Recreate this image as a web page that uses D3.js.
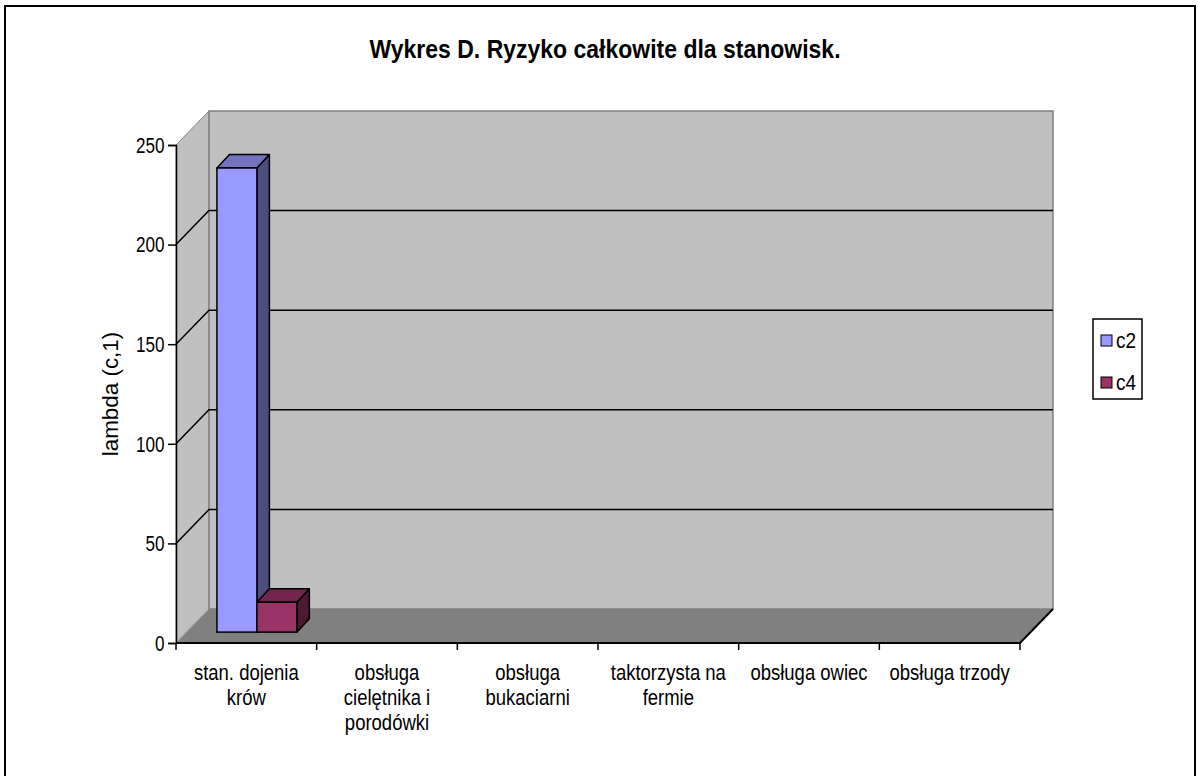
<!DOCTYPE html>
<html>
<head>
<meta charset="utf-8">
<script src="https://cdn.jsdelivr.net/npm/d3@7"></script>
<style>
  body { margin: 0; background: #fff; }
  text { font-family: Arial, "Liberation Sans", sans-serif; }
</style>
</head>
<body>
<svg id="chart" width="1198" height="776"></svg>
<script>
// data
var categories = [["stan. dojenia", "krów"], ["obsługa", "cielętnika i", "porodówki"], ["obsługa", "bukaciarni"],
                  ["taktorzysta na", "fermie"], ["obsługa owiec"], ["obsługa trzody"]];
var seriesNames = ["c2", "c4"];
var c2 = [233, 0, 0, 0, 0, 0];
var c4 = [15, 0, 0, 0, 0, 0];
var yTicks = [0, 50, 100, 150, 200, 250];

var colors = {
    c2: {front: "#9999ff", top: "#7373bf", side: "#4d4d80"},
    c4: {front: "#993366", top: "#73264d", side: "#4d1a33"}
};

var svg = d3.select("#chart");

// outer frame
svg.append("rect").attr("x", 5).attr("y", 6).attr("width", 1190).attr("height", 790)
    .attr("fill", "#fff").attr("stroke", "#000").attr("stroke-width", 2);

// plot geometry (front plane), depth offset to the back wall
var x0 = 176, x1 = 1020, depthX = 33, depthY = 34;
var y = d3.scaleLinear().domain([0, 250]).range([643, 145]);
var x = d3.scaleBand().domain(d3.range(categories.length)).range([x0, x1]);

// walls
svg.append("polygon")   // side wall
    .attr("points", [[x0, y(250)], [x0 + depthX, y(250) - depthY], [x0 + depthX, y(0) - depthY], [x0, y(0)]].join(" "))
    .attr("fill", "#c0c0c0").attr("stroke", "#808080").attr("stroke-width", 1);
svg.append("rect")      // back wall
    .attr("x", x0 + depthX).attr("y", y(250) - depthY)
    .attr("width", x1 - x0).attr("height", y(0) - y(250))
    .attr("fill", "#c0c0c0").attr("stroke", "#808080").attr("stroke-width", 1.5);
svg.append("polygon")   // floor
    .attr("points", [[x0, y(0)], [x0 + depthX, y(0) - depthY], [x1 + depthX, y(0) - depthY], [x1, y(0)]].join(" "))
    .attr("fill", "#808080").attr("stroke", "none");

// gridlines on side + back wall
yTicks.filter(function(t){ return t > 0 && t < 250; }).forEach(function(t){
    svg.append("polyline")
        .attr("points", [[x0, y(t)], [x0 + depthX, y(t) - depthY], [x1 + depthX, y(t) - depthY]].join(" "))
        .attr("fill", "none").attr("stroke", "#000").attr("stroke-width", 1.5);
});

// floor edges
svg.append("line").attr("x1", x0).attr("y1", y(0)).attr("x2", x0 + depthX).attr("y2", y(0) - depthY)
    .attr("stroke", "#a0a0a0").attr("stroke-width", 1);
svg.append("polyline")
    .attr("points", [[x0, y(0)], [x1, y(0)], [x1 + depthX, y(0) - depthY]].join(" "))
    .attr("fill", "none").attr("stroke", "#000").attr("stroke-width", 2);

// bars, placed in a plane part way into the depth
var fFront = 0.32, barDX = 12.5, barDY = 13.5;
var inner = d3.scaleBand().domain(seriesNames).range([0, x.bandwidth()]).paddingOuter(0.76).paddingInner(0);
var series = {c2: c2, c4: c4};

var bars = svg.append("g");
categories.forEach(function(cat, i){
    seriesNames.forEach(function(s){
        var v = series[s][i];
        if (!v) return;
        var bx = x(i) + inner(s) + fFront * depthX,
            bw = inner.bandwidth(),
            by0 = y(0) - fFront * depthY,
            by1 = y(v) - fFront * depthY,
            c = colors[s];
        bars.append("polygon")   // side
            .attr("points", [[bx + bw, by1], [bx + bw + barDX, by1 - barDY], [bx + bw + barDX, by0 - barDY], [bx + bw, by0]].join(" "))
            .attr("fill", c.side).attr("stroke", "#000").attr("stroke-width", 1.5).attr("stroke-linejoin", "round");
        bars.append("polygon")   // top
            .attr("points", [[bx, by1], [bx + barDX, by1 - barDY], [bx + bw + barDX, by1 - barDY], [bx + bw, by1]].join(" "))
            .attr("fill", c.top).attr("stroke", "#000").attr("stroke-width", 1.5).attr("stroke-linejoin", "round");
        bars.append("rect")      // front
            .attr("x", bx).attr("y", by1).attr("width", bw).attr("height", by0 - by1)
            .attr("fill", c.front).attr("stroke", "#000").attr("stroke-width", 1.5);
    });
});

// y axis
var yAxis = svg.append("g").attr("transform", "translate(" + x0 + ",0)")
    .call(d3.axisLeft(y).tickValues(yTicks).tickSize(8).tickPadding(3));
yAxis.select(".domain").attr("stroke", "#000").attr("stroke-width", 1.5);
yAxis.selectAll(".tick line").attr("stroke", "#000").attr("stroke-width", 1.5);
yAxis.selectAll(".tick text")
    .attr("font-size", 18).attr("fill", "#000")
    .attr("font-family", "Arial, 'Liberation Sans', sans-serif")
    .attr("x", -12).attr("y", 0).attr("dy", "0.34em")
    .attr("transform", "scale(0.95,1.2)");

// category ticks
svg.append("g").selectAll("line")
    .data(d3.range(categories.length + 1))
    .join("line")
    .attr("x1", function(i){ return i < categories.length ? x(i) : x1; })
    .attr("x2", function(i){ return i < categories.length ? x(i) : x1; })
    .attr("y1", y(0)).attr("y2", y(0) + 7)
    .attr("stroke", "#000").attr("stroke-width", 1.5);

// category labels (text looks vertically stretched in the original)
var stretch = 1.2;
categories.forEach(function(lines, i){
    var t = svg.append("g")
        .attr("transform", "translate(" + (x(i) + x.bandwidth() / 2) + ",680) scale(1," + stretch + ")")
        .append("text")
        .attr("text-anchor", "middle").attr("font-size", 18.5).attr("fill", "#000");
    lines.forEach(function(l, k){
        t.append("tspan").attr("x", 0).attr("dy", k ? 25 / stretch : 0).text(l);
    });
});

// y axis title
svg.append("text")
    .attr("transform", "translate(118," + ((y(0) + y(250)) / 2) + ") rotate(-90) scale(1.15,1.15)")
    .attr("text-anchor", "middle").attr("font-size", 19.5).attr("fill", "#000")
    .text("lambda (c,1)");

// title
svg.append("text")
    .attr("transform", "translate(605,58) scale(1,1.12)")
    .attr("text-anchor", "middle").attr("font-size", 23).attr("font-weight", "bold").attr("fill", "#000")
    .text("Wykres D. Ryzyko całkowite dla stanowisk.");

// legend
var lg = svg.append("g").attr("transform", "translate(1093,319)");
lg.append("rect").attr("width", 49).attr("height", 80)
    .attr("fill", "#fff").attr("stroke", "#000").attr("stroke-width", 1.5);
seriesNames.forEach(function(s, k){
    var row = lg.append("g").attr("transform", "translate(0," + (22 + k * 42) + ")");
    row.append("rect").attr("x", 8).attr("y", -6).attr("width", 11).attr("height", 11)
        .attr("fill", colors[s].front).attr("stroke", "#000").attr("stroke-width", 1);
    row.append("text").attr("transform", "translate(23,7) scale(1,1.2)")
        .attr("font-size", 19).attr("fill", "#000").text(s);
});
</script>
</body>
</html>
